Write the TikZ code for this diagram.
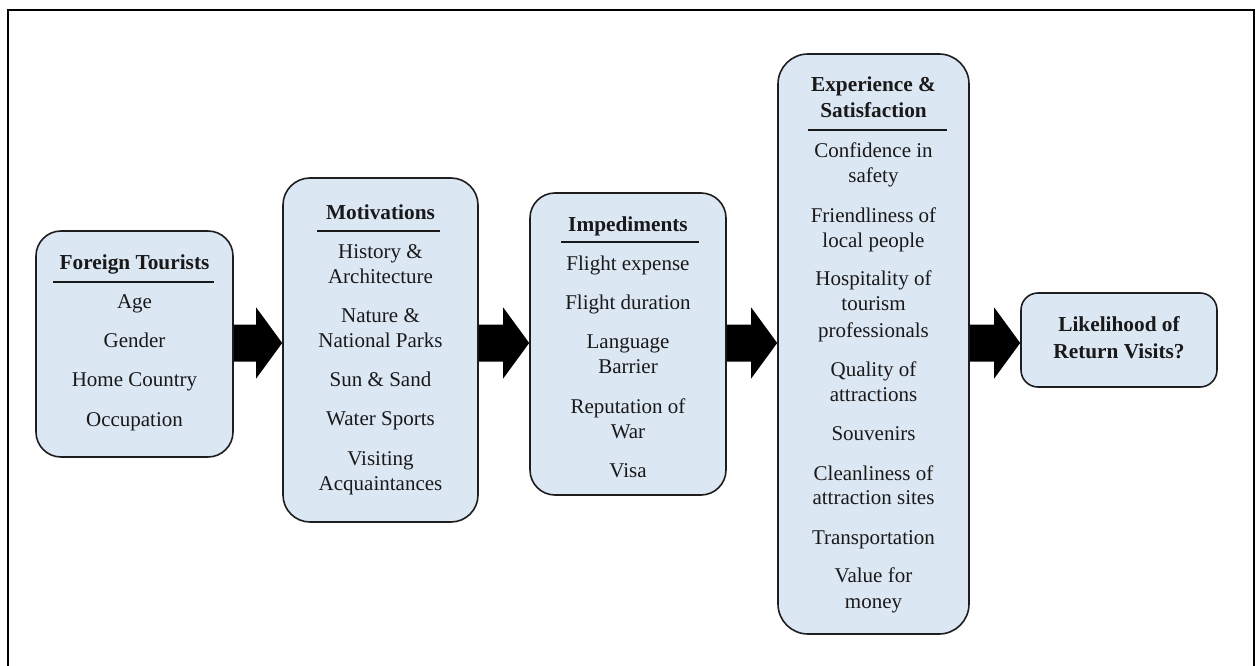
\documentclass[tikz,border=0pt]{standalone}
\usepackage{fontspec}
\setmainfont{Liberation Serif}
\usetikzlibrary{calc}
\definecolor{boxfill}{RGB}{220,231,244}
\definecolor{boxline}{RGB}{30,30,30}
\tikzset{
  box/.style={draw=boxline, line width=1.6pt, fill=boxfill, rounded corners=25pt, inner sep=0pt},
  txt/.style={font=\fontsize{21}{24}\selectfont, text=black!90, text height=17pt, text depth=4pt, inner sep=0pt},
  hdr/.style={txt, font=\fontsize{21.3}{24}\selectfont\bfseries},
  rule/.style={line width=2.3pt, draw=black!90},
  frame/.style={line width=1.4pt, draw=black}
}
\newcommand\blkarrow[2]{%
  \fill[black] let \p1=(#1.east|-ay), \p2=(#2.west|-ay) in
  (\x1,\y1+18.5pt) -- (\x2-26pt,\y1+18.5pt) -- (\x2-26pt,\y1+35.5pt) -- (\x2,\y1)
  -- (\x2-26pt,\y1-35.5pt) -- (\x2-26pt,\y1-18.5pt) -- (\x1,\y1-18.5pt) -- cycle;}
\begin{document}
\begin{tikzpicture}[x=1pt,y=-1pt]
\useasboundingbox (0,0) rectangle (1259,666);
\fill[white] (0,0) rectangle (1259,666);
\draw[frame] (8,667) -- (8,10) -- (1254,10) -- (1254,667);
\coordinate (ay) at (0,343);

% boxes
\node[box, minimum width=197pt, minimum height=226pt] (ft) at (134.5,344) {};
\node[box, minimum width=195pt, minimum height=344pt, rounded corners=27pt] (mo) at (380.5,350) {};
\node[box, minimum width=196pt, minimum height=302pt] (im) at (628,344) {};
\node[box, minimum width=191pt, minimum height=580pt, rounded corners=30pt] (ex) at (873.5,344) {};
\node[box, minimum width=196pt, minimum height=94pt, rounded corners=17pt] (lr) at (1119,340) {};

% arrows
\blkarrow{ft}{mo}
\blkarrow{mo}{im}
\blkarrow{im}{ex}
\blkarrow{ex}{lr}

% Foreign Tourists
\node[hdr] (fth) at (134.5,263) {Foreign Tourists};
\draw[rule] (53,282) -- (214,282);
\node[txt] (ft1) at (134.5,302) {Age};
\node[txt] (ft2) at (134.5,341) {Gender};
\node[txt] (ft3) at (134.5,380) {Home Country};
\node[txt] (ft4) at (134.5,420) {Occupation};

% Motivations
\node[hdr] (moh) at (380.5,213) {Motivations};
\draw[rule] (317,231) -- (440,231);
\node[txt] (mo1) at (380.5,252) {History \&};
\node[txt] (mo2) at (380.5,277) {Architecture};
\node[txt] (mo3) at (380.5,316) {Nature \&};
\node[txt] (mo4) at (380.5,341) {National Parks};
\node[txt] (mo5) at (380.5,380) {Sun \& Sand};
\node[txt] (mo6) at (380.5,419) {Water Sports};
\node[txt] (mo7) at (380.5,459) {Visiting};
\node[txt] (mo8) at (380.5,484) {Acquaintances};

% Impediments
\node[hdr] (imh) at (628,225) {Impediments};
\draw[rule] (561,242) -- (699,242);
\node[txt] (im1) at (628,264) {Flight expense};
\node[txt] (im2) at (628,303) {Flight duration};
\node[txt] (im3) at (628,342) {Language};
\node[txt] (im4) at (628,367) {Barrier};
\node[txt] (im5) at (628,407) {Reputation of};
\node[txt] (im6) at (628,432) {War};
\node[txt] (im7) at (628,471) {Visa};

% Experience & Satisfaction
\node[hdr] (exh1) at (873.5,85) {Experience \&};
\node[hdr] (exh2) at (873.5,111) {Satisfaction};
\draw[rule] (808,130) -- (947,130);
\node[txt] (ex1) at (873.5,151) {Confidence in};
\node[txt] (ex2) at (873.5,176) {safety};
\node[txt] (ex3) at (873.5,216) {Friendliness of};
\node[txt] (ex4) at (873.5,241) {local people};
\node[txt] (ex5) at (873.5,279) {Hospitality of};
\node[txt] (ex6) at (873.5,304) {tourism};
\node[txt] (ex7) at (873.5,331) {professionals};
\node[txt] (ex8) at (873.5,370) {Quality of};
\node[txt] (ex9) at (873.5,395) {attractions};
\node[txt] (ex10) at (873.5,434) {Souvenirs};
\node[txt] (ex11) at (873.5,473.5) {Cleanliness of};
\node[txt] (ex12) at (873.5,498) {attraction sites};
\node[txt] (ex13) at (873.5,537.5) {Transportation};
\node[txt] (ex14) at (873.5,576) {Value for};
\node[txt] (ex15) at (873.5,602) {money};

% Likelihood
\node[hdr] (lr1) at (1119,325) {Likelihood of};
\node[hdr] (lr2) at (1119,351.5) {Return Visits?};
\end{tikzpicture}
\end{document}
